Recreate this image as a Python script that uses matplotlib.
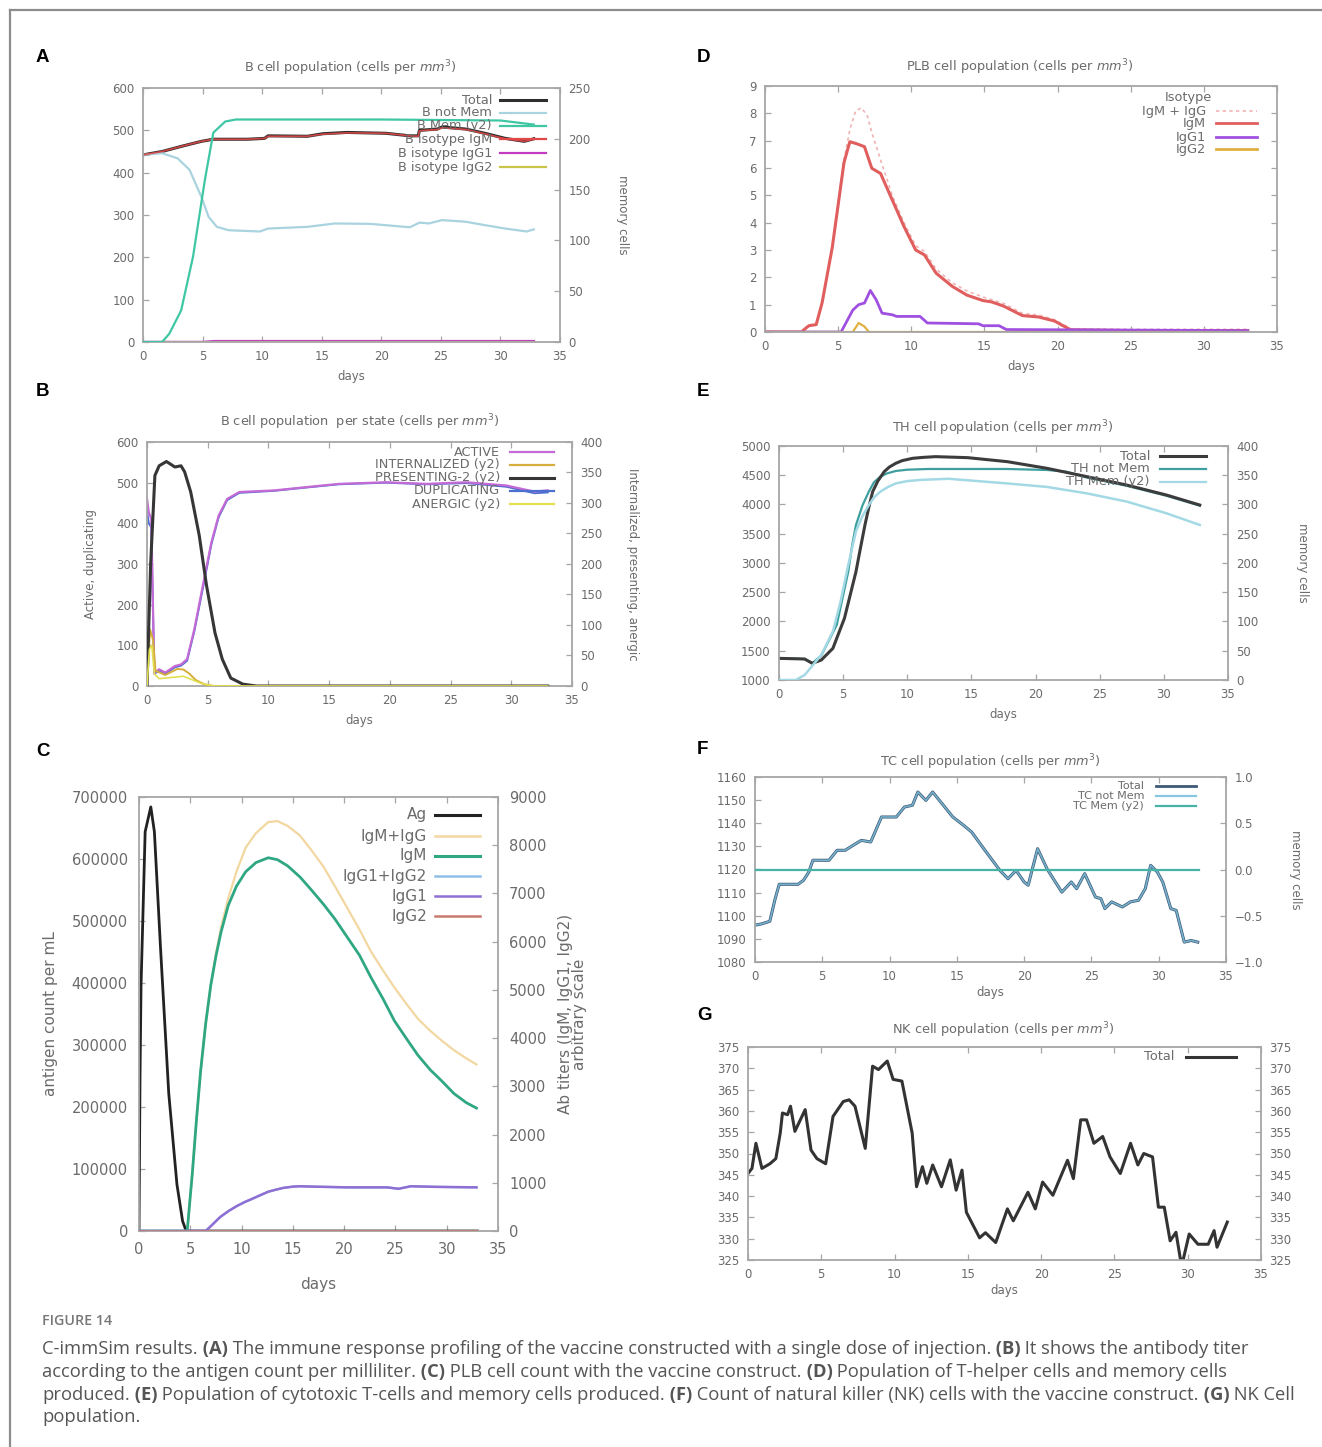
import matplotlib
matplotlib.use("Agg")
import matplotlib.pyplot as plt
from matplotlib.lines import Line2D

W, H = 1322, 1447

# ---- Panel A: B cell population ----
a_day_total = [0, 1.6, 3.2, 4.9, 5.9, 8.8, 10.2, 10.5, 13.8, 15.1, 17.1, 20.4, 22.4, 23.1, 23.2, 24.7, 25.1, 27.1, 28.7, 30.4, 32.0, 32.8]
a_total = [442, 450, 462, 474, 479, 479, 481, 487, 486, 492, 495, 493, 487, 487, 500, 503, 508, 503, 493, 481, 474, 480]
a_igm = [442, 450, 462, 474, 479, 479, 481, 486, 486, 491, 494, 493, 487, 486, 499, 502, 506, 502, 492, 480, 474, 479]
a_day_notmem = [0, 1.6, 2.9, 3.9, 4.9, 5.5, 6.2, 7.2, 9.8, 10.5, 13.8, 16.1, 19.1, 22.4, 23.2, 24.0, 25.1, 27.1, 28.7, 30.4, 32.2, 32.8]
a_notmem = [442, 446, 434, 407, 343, 296, 272, 264, 261, 268, 272, 280, 279, 271, 282, 280, 288, 284, 276, 268, 261, 266]
a_day_mem = [0, 1.6, 2.2, 3.2, 4.2, 5.2, 5.9, 6.9, 7.8, 20, 30, 32.8]
a_mem = [0, 0, 8, 31, 84, 160, 206, 217, 219, 219, 218, 214]
a_day_igg = [0, 5, 6, 32.8]
a_igg1 = [0, 0, 2, 2]
a_igg2 = [0, 0, 0.5, 0.5]

# ---- Panel B: B cell population per state ----
b_day_active = [0, 0.15, 0.35, 0.6, 1.0, 1.5, 2.3, 2.8, 3.3, 3.9, 4.6, 5.3, 5.9, 6.6, 7.6, 10.5, 13.1, 15.8, 19.7, 23.0, 26.3, 29.6, 31.9, 33.0]
b_active = [460, 427, 411, 33, 41, 33, 49, 53, 66, 140, 247, 353, 419, 460, 477, 481, 489, 497, 501, 497, 501, 493, 478, 481]
b_dup = [430, 400, 390, 30, 38, 30, 46, 50, 62, 135, 240, 348, 415, 457, 475, 480, 488, 496, 500, 496, 499, 490, 474, 476]
b_day_pres = [0, 0.3, 0.65, 1.0, 1.6, 2.3, 2.8, 3.1, 3.6, 4.3, 4.9, 5.6, 6.2, 6.9, 7.9, 9.0, 33.0]
b_pres = [0, 200, 345, 361, 368, 359, 361, 351, 318, 247, 165, 87, 44, 13, 3, 0, 0]
b_day_int = [0, 0.25, 0.5, 0.7, 1.5, 2.5, 3.0, 3.5, 4.0, 4.7, 5.5, 33.0]
b_int = [0, 93, 75, 25, 18, 28, 27, 20, 10, 3, 0, 0]
b_day_anerg = [0, 0.2, 0.4, 0.6, 1.0, 2.0, 3.0, 3.5, 4.5, 5.5, 33.0]
b_anerg = [0, 60, 67, 20, 12, 14, 16, 12, 4, 0, 0]

# ---- Panel C: antigen and antibodies ----
c_day_ag = [0, 0.1, 0.2, 0.6, 1.15, 1.5, 2.1, 2.9, 3.7, 4.25, 4.6, 33.0]
c_ag = [0, 250000, 397000, 644000, 684000, 644000, 456000, 222000, 75000, 16000, 0, 0]
c_day_ab = [0, 4.7, 5.2, 5.6, 6.0, 6.5, 7.0, 7.5, 8.0, 8.7, 9.5, 10.4, 11.4, 12.6, 13.5, 14.5, 15.7, 16.8, 18.0, 19.1, 20.3, 21.5, 22.6, 23.8, 24.9, 26.1, 27.2, 28.4, 29.5, 30.7, 31.9, 32.9]
c_igm_igg = [0, 0, 1200, 2300, 3300, 4300, 5100, 5750, 6300, 6900, 7450, 7950, 8250, 8480, 8500, 8400, 8200, 7900, 7550, 7150, 6700, 6250, 5800, 5400, 5050, 4700, 4400, 4150, 3950, 3750, 3580, 3454]
c_igm = [0, 0, 1200, 2300, 3300, 4300, 5100, 5700, 6200, 6750, 7150, 7450, 7640, 7740, 7700, 7570, 7340, 7074, 6772, 6470, 6094, 5717, 5264, 4811, 4359, 3982, 3643, 3341, 3115, 2851, 2662, 2549]
c_day_igg = [0, 6.5, 7.0, 7.9, 8.7, 9.5, 10.3, 11.0, 11.8, 12.6, 13.4, 14.1, 15.0, 15.7, 17.0, 20.3, 24.2, 25.3, 26.5, 29.0, 32.9]
c_igg1 = [0, 0, 100, 287, 410, 513, 600, 664, 740, 815, 860, 895, 920, 928, 920, 905, 905, 875, 928, 915, 905]
c_igg12 = [0, 0, 100, 287, 410, 513, 600, 664, 740, 815, 860, 895, 920, 928, 920, 905, 905, 875, 928, 915, 905]
c_day_igg2 = [0, 32.9]
c_igg2 = [0, 0]

# ---- Panel D: PLB cell population ----
d_day_igm = [0, 2.5, 2.7, 3.0, 3.5, 3.9, 4.6, 5.4, 5.8, 6.2, 6.8, 7.3, 7.9, 8.7, 9.5, 10.3, 10.9, 11.7, 12.8, 13.8, 14.9, 15.5, 16.3, 17.6, 18.7, 19.8, 20.3, 20.9, 25.0, 33.0]
d_igm = [0, 0, 0.1, 0.23, 0.27, 1.06, 3.1, 6.2, 6.96, 6.9, 6.78, 5.99, 5.8, 4.83, 3.86, 3.0, 2.82, 2.15, 1.67, 1.35, 1.15, 1.1, 0.95, 0.6, 0.55, 0.4, 0.25, 0.08, 0.05, 0.05]
d_day_sum = [0, 2.5, 3.0, 3.5, 3.9, 4.6, 5.4, 5.8, 6.2, 6.6, 7.0, 7.3, 7.9, 8.7, 9.5, 10.3, 10.9, 11.7, 12.8, 13.8, 14.9, 16.3, 17.6, 18.7, 19.8, 20.9, 25.0, 33.0]
d_igm_igg = [0, 0, 0.25, 0.3, 1.1, 3.1, 6.3, 7.4, 8.1, 8.2, 7.9, 7.3, 6.3, 5.0, 4.0, 3.15, 2.95, 2.3, 1.8, 1.5, 1.28, 1.05, 0.68, 0.62, 0.45, 0.12, 0.1, 0.1]
d_day_igg1 = [0, 5.2, 6.0, 6.4, 6.8, 7.2, 7.6, 8.0, 8.7, 9.0, 10.6, 11.1, 14.6, 14.9, 16.0, 16.5, 33.0]
d_igg1 = [0, 0, 0.8, 1.0, 1.06, 1.52, 1.18, 0.69, 0.63, 0.57, 0.57, 0.33, 0.3, 0.23, 0.23, 0.09, 0.05]
d_day_igg2 = [0, 6.0, 6.4, 6.8, 7.1, 33.0]
d_igg2 = [0, 0, 0.33, 0.2, 0, 0]

# ---- Panel E: TH cell population ----
e_day_total = [0, 2.0, 2.6, 3.3, 4.2, 5.1, 6.0, 6.3, 6.7, 7.0, 7.3, 7.7, 8.2, 8.6, 9.1, 9.6, 10.4, 11.2, 12.2, 14.7, 17.8, 20.9, 24.0, 27.1, 30.2, 32.8]
e_total = [1370, 1359, 1285, 1342, 1541, 2054, 2852, 3200, 3650, 3950, 4219, 4400, 4561, 4640, 4704, 4750, 4789, 4805, 4818, 4801, 4732, 4618, 4476, 4333, 4162, 3991]
e_day_notmem = [0, 2.0, 2.6, 3.3, 4.5, 5.4, 5.7, 6.0, 6.5, 7.0, 7.4, 7.9, 8.4, 9.1, 10.0, 11.6, 17.8, 20.9, 22.4, 24.0, 27.1, 30.2, 32.8]
e_notmem = [1370, 1359, 1285, 1420, 1940, 2852, 3300, 3650, 3980, 4219, 4380, 4476, 4530, 4573, 4595, 4607, 4607, 4590, 4560, 4460, 4320, 4150, 3980]
e_day_mem = [0, 1.3, 2.0, 3.3, 4.2, 4.8, 5.4, 6.0, 6.5, 7.0, 7.4, 7.9, 8.5, 9.1, 10.0, 11.0, 13.2, 17.8, 20.9, 24.0, 27.1, 30.2, 32.8]
e_mem = [0, 0, 8.5, 43, 83, 134, 197, 254, 280, 299, 312, 322, 330, 336, 340, 342, 344, 336, 330, 319, 305, 285, 265]

# ---- Panel F: TC cell population ----
f_day = [0, 0.5, 1.1, 1.5, 1.8, 3.2, 3.6, 4.0, 4.3, 5.5, 6.1, 6.7, 7.3, 7.9, 8.6, 9.4, 10.5, 11.1, 11.7, 12.1, 12.7, 13.2, 13.8, 14.7, 15.5, 16.1, 17.0, 18.2, 18.8, 19.4, 20.0, 20.3, 21.0, 21.7, 22.8, 23.5, 23.9, 24.5, 25.3, 25.7, 26.0, 26.5, 27.3, 27.9, 28.5, 29.0, 29.4, 29.9, 30.3, 30.9, 31.3, 31.9, 32.4, 32.9]
f_total = [1095.9, 1096.5, 1097.6, 1107.4, 1113.6, 1113.6, 1115.3, 1118.9, 1124, 1124, 1128.3, 1128.3, 1130.5, 1132.6, 1131.9, 1142.7, 1142.7, 1147, 1147.8, 1153.5, 1149.9, 1153.5, 1149.2, 1142.7, 1139.1, 1136.2, 1129, 1119.6, 1116, 1119.6, 1114.6, 1113.2, 1129, 1120.3, 1110.2, 1114.6, 1111.7, 1118.2, 1108.1, 1107.4, 1103.1, 1106, 1103.8, 1106, 1106.7, 1111.7, 1121.8, 1118.9, 1114.6, 1103.1, 1102.3, 1088.6, 1089.3, 1088.6]
f_notmem = f_total
f_day_mem = [0, 33.0]
f_mem = [0, 0]

# ---- Panel G: NK cell population ----
g_day = [0, 0.27, 0.54, 0.95, 1.5, 1.9, 2.2, 2.35, 2.7, 2.9, 3.2, 3.9, 4.3, 4.7, 5.3, 5.8, 6.5, 6.9, 7.3, 8.0, 8.5, 8.9, 9.5, 9.9, 10.5, 11.2, 11.5, 11.9, 12.2, 12.6, 13.2, 13.8, 14.2, 14.6, 14.9, 15.8, 16.2, 16.9, 17.7, 18.1, 19.1, 19.6, 20.1, 20.8, 21.8, 22.2, 22.7, 23.1, 23.6, 24.2, 24.7, 25.4, 26.1, 26.6, 27.0, 27.6, 28.0, 28.4, 28.8, 29.2, 29.5, 29.7, 30.1, 30.7, 31.4, 31.8, 32.0, 32.7]
g_total = [345.3, 346.5, 352.4, 346.5, 347.6, 348.8, 354.8, 359.5, 359.1, 361.1, 355.2, 360.3, 350.8, 348.8, 347.6, 358.7, 362.2, 362.6, 361.1, 351.2, 370.5, 369.7, 371.7, 367.4, 367, 354.8, 342.2, 346.9, 343, 347.3, 342.2, 348.5, 341.4, 346.1, 336.2, 330.2, 331.4, 329.1, 337, 334.2, 340.9, 337, 343.3, 340.2, 348.4, 344.1, 357.9, 357.9, 352.4, 354, 349.2, 345.3, 352.4, 347.3, 350, 349.2, 337.4, 337.4, 329.5, 331.5, 325.2, 325.2, 331.1, 328.7, 328.7, 331.9, 328, 333.9]

FRAME = "#a6a6a6"
TXT = "#6b6b6b"
FS = 8.5     # tick labels
FSL = 9.3    # legend / titles


def add_axes_px(fig, l, t, r, b):
    return fig.add_axes([l / W, 1 - b / H, (r - l) / W, (b - t) / H])


def fx(x):
    return x / W


def fy(y):
    return 1 - y / H


def gp_style(ax, ylim, yticks, fs=FS, mirror=True):
    ax.set_xlim(0, 35)
    ax.set_xticks(range(0, 36, 5))
    ax.set_ylim(*ylim)
    ax.set_yticks(yticks)
    for sp in ax.spines.values():
        sp.set_color(FRAME)
        sp.set_linewidth(1.3)
    ax.tick_params(direction="in", length=4, width=0.9, color=FRAME,
                   labelcolor=TXT, labelsize=fs, top=True, right=mirror, pad=6)
    ax.set_xlabel("days", fontsize=fs, color=TXT, labelpad=5)


def gp_twin(ax, ylim, yticks, fs=FS):
    ax2 = ax.twinx()
    ax2.set_ylim(*ylim)
    ax2.set_yticks(yticks)
    for sp in ax2.spines.values():
        sp.set_visible(False)
    ax2.tick_params(direction="in", length=4, width=0.9, color=FRAME,
                    labelcolor=TXT, labelsize=fs, pad=6)
    return ax2


def gp_legend(fig, entries, x_text, x0, x1, ys, fs=FSL):
    for (label, color, lw, ls), y in zip(entries, ys):
        fig.text(fx(x_text), fy(y), label, ha="right", va="center",
                 fontsize=fs, color=TXT)
        fig.add_artist(Line2D([fx(x0), fx(x1)], [fy(y), fy(y)],
                              transform=fig.transFigure, color=color, lw=lw, ls=ls))


def title(fig, x, y, s, fs=FSL):
    fig.text(fx(x), fy(y), s, ha="center", va="center", fontsize=fs, color=TXT)


def letter(fig, x, y, s):
    fig.text(fx(x), fy(y), s, ha="left", va="center", fontsize=13.5,
             weight="bold", family="Liberation Sans", color="black")


fig = plt.figure(figsize=(W / 100, H / 100), dpi=100)

# border
fig.add_artist(Line2D([fx(10), 1], [fy(10), fy(10)], transform=fig.transFigure, color="#8c8c8c", lw=1.6))
fig.add_artist(Line2D([fx(10), fx(10)], [fy(10), 0], transform=fig.transFigure, color="#8c8c8c", lw=1.6))

# ---------- A ----------
ax = add_axes_px(fig, 143, 88, 560, 342)
gp_style(ax, (0, 600), range(0, 601, 100), mirror=False)
ax2 = gp_twin(ax, (0, 250), range(0, 251, 50))
c_a = {"tot": "#2e2e2e", "nm": "#a9d3df", "mem": "#3fc7a4", "igm": "#e04848", "g1": "#c23cc2", "g2": "#c9c54a"}
ax.plot(a_day_total, a_total, color=c_a["tot"], lw=2.2)
ax.plot(a_day_notmem, a_notmem, color=c_a["nm"], lw=1.6)
ax2.plot(a_day_mem, a_mem, color=c_a["mem"], lw=1.6)
ax.plot(a_day_total, a_igm, color=c_a["igm"], lw=1.2, alpha=0.9)
ax.plot(a_day_igg, a_igg1, color=c_a["g1"], lw=1.8)
ax.plot(a_day_igg, a_igg2, color=c_a["g2"], lw=1.2)
ax2.set_ylabel("memory cells", rotation=-90, fontsize=FS, color=TXT, labelpad=28)
title(fig, 350, 68, r"B cell population (cells per $mm^3$)")
gp_legend(fig, [("Total", c_a["tot"], 2.2, "-"), ("B not Mem", c_a["nm"], 1.6, "-"),
                ("B Mem (y2)", c_a["mem"], 1.6, "-"), ("B isotype IgM", c_a["igm"], 1.6, "-"),
                ("B isotype IgG1", c_a["g1"], 1.6, "-"), ("B isotype IgG2", c_a["g2"], 1.6, "-")],
          492, 500, 546, [100, 113, 126, 139, 153, 167])
letter(fig, 36, 57, "A")

# ---------- B ----------
ax = add_axes_px(fig, 147, 442, 572, 686)
gp_style(ax, (0, 600), range(0, 601, 100), mirror=False)
ax2 = gp_twin(ax, (0, 400), range(0, 401, 50))
c_b = {"act": "#c46ad6", "int": "#d6ae3c", "pres": "#363636", "dup": "#4c6fd0", "an": "#e2e050"}
ax.plot(b_day_active, b_dup, color=c_b["dup"], lw=1.4)
ax.plot(b_day_active, b_active, color=c_b["act"], lw=1.6)
ax2.plot(b_day_int, b_int, color=c_b["int"], lw=1.4)
ax2.plot(b_day_pres, b_pres, color=c_b["pres"], lw=2.2)
ax2.plot(b_day_anerg, b_anerg, color=c_b["an"], lw=1.2)
ax.set_ylabel("Active, duplicating", fontsize=FS, color=TXT, labelpad=14)
ax2.set_ylabel("Internalized, presenting, anergic", rotation=-90, fontsize=FS, color=TXT, labelpad=26)
title(fig, 360, 422, r"B cell population  per state (cells per $mm^3$)")
gp_legend(fig, [("ACTIVE", c_b["act"], 1.6, "-"), ("INTERNALIZED (y2)", c_b["int"], 1.6, "-"),
                ("PRESENTING-2 (y2)", c_b["pres"], 2.2, "-"), ("DUPLICATING", c_b["dup"], 1.6, "-"),
                ("ANERGIC (y2)", c_b["an"], 1.6, "-")],
          500, 510, 554, [452, 465, 478, 491, 504])
letter(fig, 36, 392, "B")

# ---------- C ----------
FSC = 10.5
ax = add_axes_px(fig, 139, 797, 498, 1231)
gp_style(ax, (0, 700000), range(0, 700001, 100000), fs=FSC, mirror=False)
ax.set_xlabel("days", fontsize=FSC + 0.5, color=TXT, labelpad=14)
ax.tick_params(pad=8)
ax2 = gp_twin(ax, (0, 9000), range(0, 9001, 1000), fs=FSC)
ax2.tick_params(pad=8)
c_c = {"ag": "#222222", "sum": "#f2d7a0", "igm": "#2fa783", "g12": "#8fbfe6", "g1": "#8f6fd4", "g2": "#c97a6e"}
ax.plot(c_day_ag, c_ag, color=c_c["ag"], lw=2.0)
ax2.plot(c_day_ab, c_igm_igg, color=c_c["sum"], lw=1.6)
ax2.plot(c_day_ab, c_igm, color=c_c["igm"], lw=2.0)
ax2.plot(c_day_igg, c_igg12, color=c_c["g12"], lw=1.6)
ax2.plot(c_day_igg, c_igg1, color=c_c["g1"], lw=1.8)
ax2.plot(c_day_igg2, c_igg2, color=c_c["g2"], lw=1.8)
ax.set_ylabel("antigen count per mL", fontsize=FSC + 0.5, color=TXT, labelpad=10)
ax2.set_ylabel("Ab titers (IgM, IgG1, IgG2)\narbitrary scale", rotation=90, fontsize=FSC + 0.5,
               color=TXT, labelpad=8, linespacing=0.9)
gp_legend(fig, [("Ag", c_c["ag"], 2.2, "-"), ("IgM+IgG", c_c["sum"], 1.8, "-"),
                ("IgM", c_c["igm"], 2.2, "-"), ("IgG1+IgG2", c_c["g12"], 1.8, "-"),
                ("IgG1", c_c["g1"], 1.8, "-"), ("IgG2", c_c["g2"], 1.8, "-")],
          427, 435, 480, [815, 836, 856, 876, 896, 916], fs=FSC + 0.5)
letter(fig, 36, 752, "C")

# ---------- D ----------
ax = add_axes_px(fig, 765, 86, 1277, 332)
gp_style(ax, (0, 9), range(0, 10))
c_d = {"sum": "#f0b4b4", "igm": "#e05e5e", "g1": "#a050e0", "g2": "#e0b040"}
ax.plot(d_day_sum, d_igm_igg, color=c_d["sum"], lw=1.2, ls=(0, (2, 2)))
ax.plot(d_day_igm, d_igm, color=c_d["igm"], lw=2.2)
ax.plot(d_day_igg1, d_igg1, color=c_d["g1"], lw=2.0)
ax.plot(d_day_igg2, d_igg2, color=c_d["g2"], lw=1.6)
title(fig, 1020, 67, r"PLB cell population (cells per $mm^3$)")
fig.text(fx(1188), fy(98), "Isotype", ha="center", va="center", fontsize=FSL, color=TXT)
gp_legend(fig, [("IgM + IgG", c_d["sum"], 1.2, (0, (2, 2))), ("IgM", c_d["igm"], 2.0, "-"),
                ("IgG1", c_d["g1"], 2.0, "-"), ("IgG2", c_d["g2"], 2.0, "-")],
          1206, 1216, 1257, [111, 123, 137, 149])
letter(fig, 697, 57, "D")

# ---------- E ----------
ax = add_axes_px(fig, 779, 446, 1228, 680)
gp_style(ax, (1000, 5000), range(1000, 5001, 500), mirror=False)
ax2 = gp_twin(ax, (0, 400), range(0, 401, 50))
c_e = {"tot": "#3c3c3c", "nm": "#3f9f9f", "mem": "#a3d9e4"}
ax.plot(e_day_notmem, e_notmem, color=c_e["nm"], lw=1.6)
ax2.plot(e_day_mem, e_mem, color=c_e["mem"], lw=1.8)
ax.plot(e_day_total, e_total, color=c_e["tot"], lw=2.2)
ax2.set_ylabel("memory cells", rotation=-90, fontsize=FS, color=TXT, labelpad=36)
title(fig, 1003, 428, r"TH cell population (cells per $mm^3$)")
gp_legend(fig, [("Total", c_e["tot"], 2.2, "-"), ("TH not Mem", c_e["nm"], 1.6, "-"),
                ("TH Mem (y2)", c_e["mem"], 1.6, "-")],
          1150, 1160, 1206, [456, 469, 482])
letter(fig, 697, 392, "E")

# ---------- F ----------
ax = add_axes_px(fig, 755, 777, 1226, 962)
gp_style(ax, (1080, 1160), range(1080, 1161, 10), mirror=False)
ax2 = gp_twin(ax, (-1, 1), [-1, -0.5, 0, 0.5, 1])
c_f = {"tot": "#3d5b78", "nm": "#86c6e0", "mem": "#45b3a6"}
ax.plot(f_day, f_total, color=c_f["tot"], lw=2.2)
ax.plot(f_day, f_notmem, color=c_f["nm"], lw=1.2, alpha=0.8)
ax2.plot(f_day_mem, f_mem, color=c_f["mem"], lw=1.6)
ax.set_xlabel("days", fontsize=FS, color=TXT, labelpad=2)
ax2.set_ylabel("memory cells", rotation=-90, fontsize=FS, color=TXT, labelpad=28)
title(fig, 990, 762, r"TC cell population (cells per $mm^3$)")
gp_legend(fig, [("Total", c_f["tot"], 2.0, "-"), ("TC not Mem", c_f["nm"], 1.6, "-"),
                ("TC Mem (y2)", c_f["mem"], 1.6, "-")],
          1144, 1156, 1196, [786, 796, 806], fs=8)
letter(fig, 697, 750, "F")

# ---------- G ----------
ax = add_axes_px(fig, 748, 1047, 1261, 1260)
gp_style(ax, (325, 375), range(325, 376, 5), mirror=False)
ax2 = gp_twin(ax, (325, 375), range(325, 376, 5))
ax.plot(g_day, g_total, color="#333333", lw=2.2)
ax.set_xlabel("days", fontsize=FS, color=TXT, labelpad=2)
title(fig, 1003, 1030, r"NK cell population (cells per $mm^3$)")
gp_legend(fig, [("Total", "#333333", 2.2, "-")], 1174, 1186, 1236, [1057])
letter(fig, 697, 1015, "G")

# ---------- caption ----------
CAP = "#555555"
CFONT = "Open Sans"
CFS = 13.2
cap = fig.add_axes([0, 0, 1, 1])
cap.axis("off")
cap.set_xlim(0, W)
cap.set_ylim(H, 0)
cap.patch.set_visible(False)
cap.text(42, 1321, "FIGURE 14", fontsize=10.3, weight="semibold", family=CFONT, color="#777777", va="center")


def rich_line(y, parts):
    prev = None
    for s, bold in parts:
        kw = dict(fontsize=CFS, weight="bold" if bold else "normal", family=CFONT, color=CAP)
        if prev is None:
            prev = cap.text(42, y, s, va="baseline", ha="left", **kw)
        else:
            prev = cap.annotate(s, xy=(1, 0), xycoords=prev, va="bottom", ha="left", **kw)


rich_line(1354, [("C-immSim results.", False), (" (A)", True),
                 (" The immune response profiling of the vaccine constructed with a single dose of injection.", False),
                 (" (B)", True), (" It shows the antibody titer", False)])
rich_line(1377, [("according to the antigen count per milliliter.", False), (" (C)", True),
                 (" PLB cell count with the vaccine construct.", False), (" (D)", True),
                 (" Population of T-helper cells and memory cells", False)])
rich_line(1400, [("produced.", False), (" (E)", True),
                 (" Population of cytotoxic T-cells and memory cells produced.", False), (" (F)", True),
                 (" Count of natural killer (NK) cells with the vaccine construct.", False), (" (G)", True),
                 (" NK Cell", False)])
rich_line(1422, [("population.", False)])

fig.savefig("out.png", dpi=100)
